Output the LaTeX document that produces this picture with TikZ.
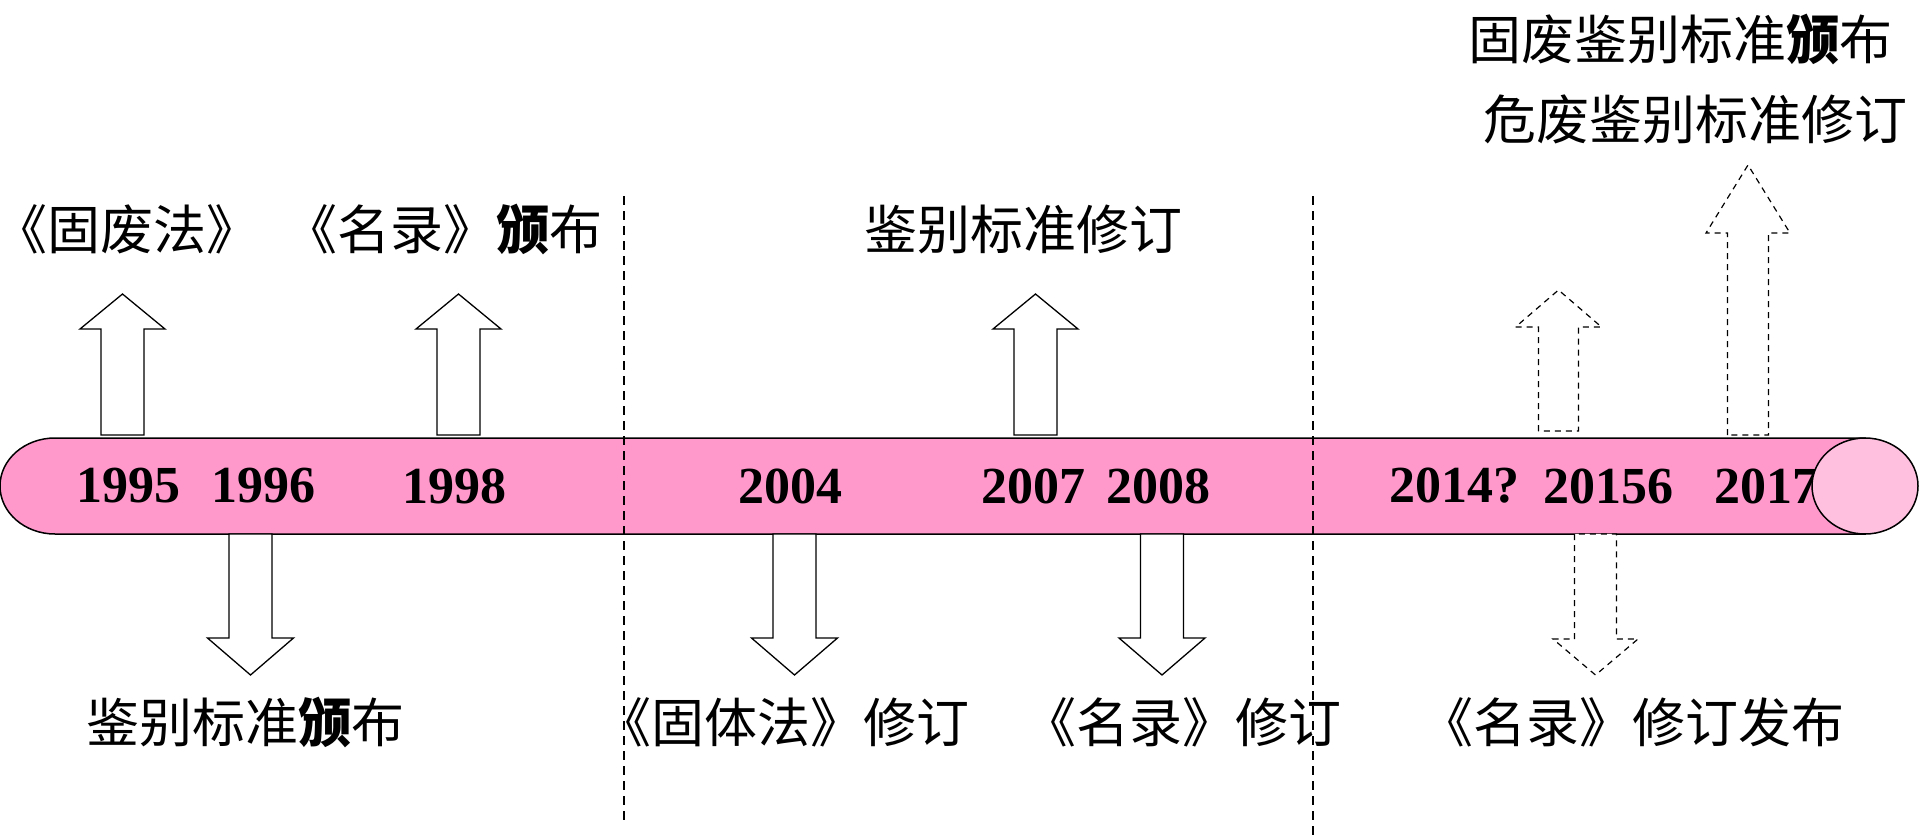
\documentclass[tikz,border=0pt]{standalone}
\usepackage{fontspec}
\setmainfont{Liberation Serif}
\newfontfamily\cjk{Noto Sans CJK SC}
\definecolor{tubepink}{RGB}{255,153,204}
\definecolor{endpink}{RGB}{255,191,223}
\newcommand{\blkarrow}[7][]{\draw[arrowbox,#1] ({#2-#6},#3) -- ({#2-#6},#4) -- ({#2-#7},#4) -- (#2,#5) -- ({#2+#7},#4) -- ({#2+#6},#4) -- ({#2+#6},#3) -- cycle;}
\tikzset{
  arrowbox/.style={draw=black, line width=1.3pt, fill=white, line join=miter},
  dashbox/.style={dash pattern=on 6pt off 5pt, line width=1.2pt},
  sep/.style={draw=black, line width=1.2pt, dash pattern=on 9pt off 6pt},
  yearlbl/.style={font=\fontsize{52}{60}\selectfont\bfseries, inner sep=0pt},
  cjklbl/.style={font=\cjk\fontsize{53}{62}\selectfont, inner sep=0pt}
}
\begin{document}
\begin{tikzpicture}[x=1pt,y=-1pt]
\useasboundingbox (0,0) rectangle (1920,836);
% timeline tube
\draw[fill=tubepink, line width=1.5pt] (55,438) -- (1865,438) -- (1865,534) -- (55,534)
  arc[start angle=90, end angle=270, x radius=55, y radius=48] -- cycle;
% years
\node[yearlbl] (y1995) at (128,486) {1995};
\node[yearlbl] (y1996) at (263,486) {1996};
\node[yearlbl] (y1998) at (454,486) {1998};
\node[yearlbl] (y2004) at (790,486) {2004};
\node[yearlbl] (y2007) at (1033,486) {2007};
\node[yearlbl] (y2008) at (1158,486) {2008};
\node[yearlbl] (y2014) at (1454,486) {2014?};
\node[yearlbl] (y2015) at (1608,486) {20156};
\node[yearlbl] (y2017) at (1766,486) {2017};
% end cap
\draw[fill=endpink, line width=1.5pt] (1865,486) ellipse [x radius=53, y radius=48];
% separators
\draw[sep] (624,196) -- (624,820);
\draw[sep] (1313,196) -- (1313,836);
% solid up arrows
\blkarrow{122.5}{435}{329}{294}{21.5}{42.5}
\blkarrow{458.5}{435}{329}{294}{21.5}{42.5}
\blkarrow{1035.5}{435}{329}{294}{21.5}{42.5}
% solid down arrows
\blkarrow{250.5}{534}{638}{675}{21.5}{43}
\blkarrow{794.5}{534}{638}{675}{21.5}{43}
\blkarrow{1162}{534}{638}{675}{21.5}{43}
% dashed arrows
\blkarrow[dashbox]{1558.5}{431}{327}{290}{20}{43}
\blkarrow[dashbox]{1748}{435}{233}{165}{20.5}{42}
\blkarrow[dashbox]{1595.5}{534}{639}{675}{21}{42.5}
% labels above
\node[cjklbl] (t1) at (127,229) {《固废法》};
\node[cjklbl] (t2) at (443,229) {《名录》{\bfseries 颁}布};
\node[cjklbl] (t3) at (1023,229) {鉴别标准修订};
\node[cjklbl] (t4) at (1680,39) {固废鉴别标准{\bfseries 颁}布};
\node[cjklbl] (t5) at (1695,119) {危废鉴别标准修订};
% labels below
\node[cjklbl] (b1) at (245,722) {鉴别标准{\bfseries 颁}布};
\node[cjklbl] (b2) at (784,722) {《固体法》修订};
\node[cjklbl] (b3) at (1182,722) {《名录》修订};
\node[cjklbl] (b4) at (1632,722) {《名录》修订发布};
\end{tikzpicture}
\end{document}
